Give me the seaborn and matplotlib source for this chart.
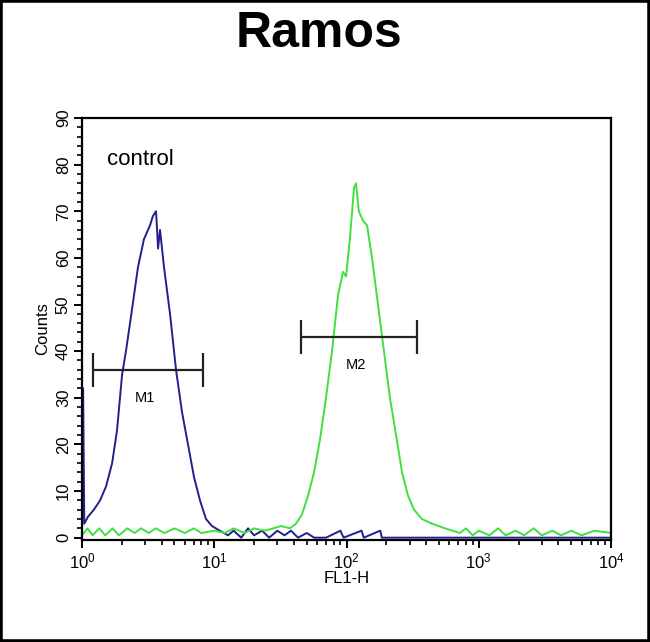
import numpy as np
import pandas as pd
import seaborn as sns
import matplotlib.pyplot as plt
from matplotlib.patches import Rectangle
from matplotlib.ticker import MultipleLocator, LogLocator, LogFormatterSciNotation

# histograma de controle (azul) - FL1-H x contagem
controle_x = [1.0, 1.02, 1.04, 1.11, 1.23, 1.37, 1.52, 1.69, 1.84, 2.01, 2.15, 2.39, 2.65,
              2.94, 3.27, 3.44, 3.63, 3.76, 3.89, 4.17, 4.63, 5.14, 5.70, 6.33, 7.03, 7.80,
              8.66, 9.61, 11.0, 12.7, 14, 16, 18, 20, 23, 26, 30, 34, 38, 43, 50, 57, 70,
              90, 95, 130, 135, 180, 185, 10000]
controle_y = [0, 32, 3, 4.5, 6, 8, 11, 16, 23, 35, 40, 49, 58,
              64, 67, 69, 70, 62, 66, 58, 48, 36, 27, 20, 13, 8,
              4, 2.5, 1.5, 0.5, 1.5, 0, 2, 0.5, 1.5, 0, 1.5, 0.5, 1.5, 0, 1, 0, 0,
              1.5, 0, 1.5, 0, 1.5, 0, 0]

# amostra marcada (verde)
amostra_x = [1.0, 1.1, 1.2, 1.35, 1.5, 1.7, 1.9, 2.2, 2.5, 2.8, 3.2, 3.6, 4.2, 5, 6, 7, 8,
             10, 12, 14, 17, 20, 24, 28, 32, 37.4, 41.5, 46.1, 51.2, 56.8, 63.0, 70.0,
             77.7, 86.3, 94.1, 99.2, 106, 114, 118, 124, 133, 143, 156, 173, 192, 213,
             237, 263, 292, 324, 372, 443, 556, 721, 800, 900, 1000, 1200, 1400, 1600,
             1900, 2200, 2600, 3000, 3600, 4200, 5000, 6000, 7500, 10000]
amostra_y = [0.5, 2, 0.5, 2, 0.5, 2, 0.5, 2, 1, 2, 1, 2, 1, 2, 1, 2, 1,
             1.5, 1, 2, 1, 2, 1.5, 2, 2.5, 2, 3, 5, 9, 14, 21, 30,
             40, 52, 57, 56, 64, 75, 76, 70, 68, 67, 60, 50, 40, 30,
             22, 14, 9, 6, 4, 3, 2, 1, 2, 0.5, 1.5, 0.5, 2, 0.5,
             1.5, 0.5, 2, 0.5, 1.5, 0.5, 1.5, 0.5, 1.5, 1]

# marcadores M1 / M2
marcadores = ['M1', 'M2']
marc_inicio = [1.21, 45.3]
marc_fim = [8.22, 341]
marc_altura = [36, 43]

sns.set_theme(style='ticks')
plt.rcParams['font.family'] = ['Liberation Sans', 'DejaVu Sans']
plt.rcParams['mathtext.default'] = 'regular'
plt.rcParams['text.color'] = 'black'
plt.rcParams['axes.labelcolor'] = 'black'
plt.rcParams['xtick.color'] = 'black'
plt.rcParams['ytick.color'] = 'black'

fig = plt.figure(figsize=(6.5, 6.42), dpi=100)
ax = fig.add_axes([82 / 650, 1 - 540 / 642, 529 / 650, 422 / 642])

sns.lineplot(x=controle_x, y=controle_y, ax=ax, color='#20208f', lw=1.4,
             sort=False, estimator=None)
sns.lineplot(x=amostra_x, y=amostra_y, ax=ax, color='#3fe03f', lw=1.4,
             sort=False, estimator=None)

for nome, x0, x1, h in zip(marcadores, marc_inicio, marc_fim, marc_altura):
    ax.hlines(h, x0, x1, color='#222222', lw=1.6)
    ax.vlines([x0, x1], h - 3.7, h + 3.7, color='#222222', lw=1.6)
    ax.text(np.sqrt(x0 * x1) * 0.95, h - 6, nome, ha='center', va='center', fontsize=10.5)

ax.set_xscale('log')
ax.set_xlim(1, 10000)
ax.set_ylim(-0.5, 90)
ax.xaxis.set_major_locator(LogLocator(base=10))
ax.xaxis.set_minor_locator(LogLocator(base=10, subs=np.arange(2, 10)))
ax.xaxis.set_major_formatter(LogFormatterSciNotation())
ax.yaxis.set_major_locator(MultipleLocator(10))
ax.yaxis.set_minor_locator(MultipleLocator(2))

for s in ax.spines.values():
    s.set_linewidth(1.6)
    s.set_color('black')
ax.tick_params(which='major', length=6, width=1.4, labelsize=12, pad=2)
ax.tick_params(which='minor', length=3.5, width=1.2)
plt.setp(ax.get_yticklabels(), rotation=90, va='center')

ax.set_xlabel('FL1-H', fontsize=12, labelpad=0)
ax.set_ylabel('Counts', fontsize=12, labelpad=4)
ax.text(1.55, 81, 'control', fontsize=16, va='center')

fig.text(0.49, 0.947, 'Ramos', ha='center', va='center', fontsize=36, fontweight='bold')

# moldura preta em volta da figura
fig.patches.append(Rectangle((0, 0), 1, 1, transform=fig.transFigure, fill=False,
                             edgecolor='black', lw=4))

plt.savefig('out.png', dpi=100)
